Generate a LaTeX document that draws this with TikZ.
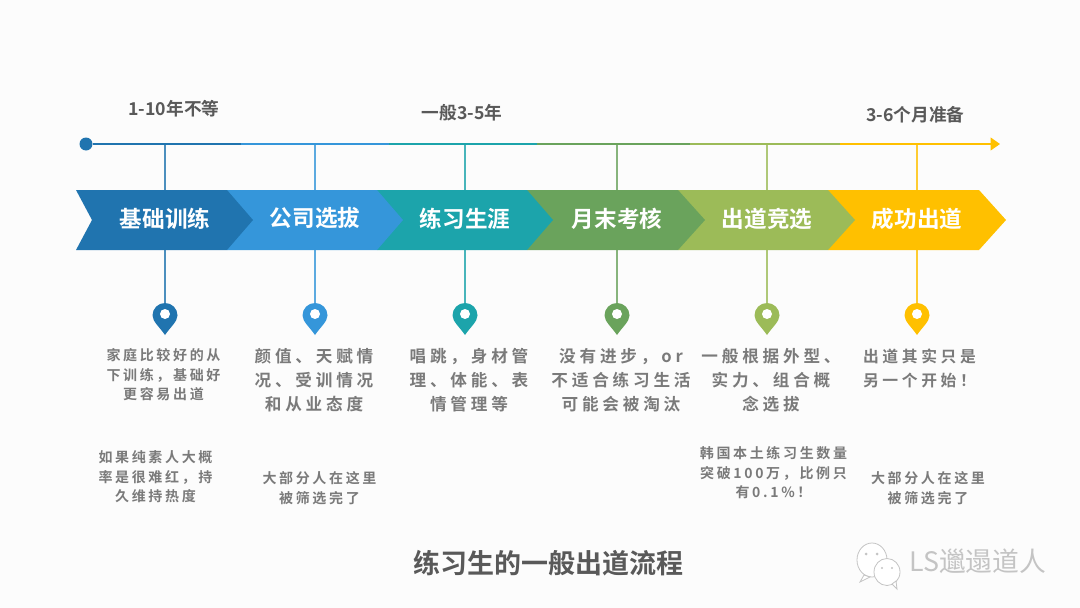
\documentclass[tikz,border=0pt]{standalone}
\usepackage{fontspec}
\usetikzlibrary{arrows.meta}
\setmainfont{Noto Sans CJK SC}
\newfontfamily\cjkbold[BoldFont={* Bold}]{Noto Sans CJK SC}
\newfontfamily\cjkwide[LetterSpace=23,BoldFont={* Bold}]{Noto Sans CJK SC}
\newfontfamily\cjksmall[LetterSpace=19,BoldFont={* Bold}]{Noto Sans CJK SC}
\definecolor{stepA}{HTML}{2074AF}
\definecolor{stepB}{HTML}{3596DA}
\definecolor{stepC}{HTML}{1CA4AB}
\definecolor{stepD}{HTML}{6AA35C}
\definecolor{stepE}{HTML}{9CBB58}
\definecolor{stepF}{HTML}{FFC000}
\definecolor{textgray}{HTML}{7A7A7A}
\definecolor{headgray}{HTML}{595959}
\definecolor{marklight}{HTML}{C4C4C4}
\tikzset{
  axisline/.style={line width=1.3pt},
  stemline/.style={line width=1.3pt, opacity=0.8},
  chevlabel/.style={text=white, font=\cjkbold\bfseries\fontsize{22.6}{26}\selectfont},
  toplabel/.style={text=headgray, font=\cjkbold\bfseries\fontsize{17.7}{20}\selectfont},
  bigtext/.style={text=textgray, align=center, font=\cjkwide\bfseries\fontsize{16.6}{24}\selectfont},
  smalltext/.style={text=textgray, align=center, font=\cjksmall\bfseries\fontsize{14}{19.4}\selectfont},
  locpin/.pic={
    \fill[pic actions] (0,19.5) .. controls (-5,12) and (-12.5,6) .. (-12.5,0)
      .. controls (-12.5,-7) and (-7,-12.5) .. (0,-12.5)
      .. controls (7,-12.5) and (12.5,-7) .. (12.5,0)
      .. controls (12.5,6) and (5,12) .. (0,19.5) -- cycle;
    \fill[white] (0,-1.5) circle (5pt);
  }
}
\begin{document}
\begin{tikzpicture}[x=1pt,y=-1pt]
  \fill[white!99!black] (0,0) rectangle (1080,608);
  \useasboundingbox (0,0) rectangle (1080,608);
  % time line
  \coordinate (seg1) at (241,144);
  \coordinate (seg2) at (389,144);
  \coordinate (seg3) at (537,144);
  \coordinate (seg4) at (690,144);
  \coordinate (seg5) at (840,144);
  \coordinate (axisend) at (1000,144);
  \node [circle, fill=stepA, inner sep=0pt, minimum size=13pt] (axisstart) at (86,144) {};
  \draw[axisline, stepA] (axisstart) -- (seg1);
  \draw[axisline, stepB] (seg1) -- (seg2);
  \draw[axisline, stepC] (seg2) -- (seg3);
  \draw[axisline, stepD] (seg3) -- (seg4);
  \draw[axisline, stepE] (seg4) -- (seg5);
  \draw[axisline, stepF, -{Triangle[length=9.5pt,width=13pt]}] (seg5) -- (axisend);
  % stems
  \coordinate (tick1) at (165,144);
  \coordinate (tick2) at (315,144);
  \coordinate (tick3) at (465,144);
  \coordinate (tick4) at (617,144);
  \coordinate (tick5) at (767,144);
  \coordinate (tick6) at (917,144);
  \coordinate (pin1) at (165,315.5);
  \coordinate (pin2) at (315,315.5);
  \coordinate (pin3) at (465,315.5);
  \coordinate (pin4) at (617,315.5);
  \coordinate (pin5) at (767,315.5);
  \coordinate (pin6) at (917,315.5);
  \draw[stemline, stepA] (tick1) -- (pin1);
  \draw[stemline, stepB] (tick2) -- (pin2);
  \draw[stemline, stepC] (tick3) -- (pin3);
  \draw[stemline, stepD] (tick4) -- (pin4);
  \draw[stemline, stepE] (tick5) -- (pin5);
  \draw[stemline, stepF] (tick6) -- (pin6);
  \pic [fill=stepA] at (pin1) {locpin};
  \pic [fill=stepB] at (pin2) {locpin};
  \pic [fill=stepC] at (pin3) {locpin};
  \pic [fill=stepD] at (pin4) {locpin};
  \pic [fill=stepE] at (pin5) {locpin};
  \pic [fill=stepF] at (pin6) {locpin};
  % chevrons, right one first
  \fill[stepF] (828,190) -- (979,190) -- (1006,220) -- (979,250) -- (828,250) -- cycle;
  \fill[stepE] (678,190) -- (828,190) -- (855,220) -- (828,250) -- (678,250) -- cycle;
  \fill[stepD] (527,190) -- (678,190) -- (705,220) -- (678,250) -- (527,250) -- cycle;
  \fill[stepC] (377,190) -- (527,190) -- (553,220) -- (527,250) -- (377,250) -- cycle;
  \fill[stepB] (227,190) -- (377,190) -- (403,220) -- (377,250) -- (227,250) -- cycle;
  \fill[stepA] (76,190) -- (227,190) -- (253,220) -- (227,250) -- (76,250) -- (92,220) -- cycle;
  \node [chevlabel] (chev1) at (165,218.5) {基础训练};
  \node [chevlabel] (chev2) at (315,218.5) {公司选拔};
  \node [chevlabel] (chev3) at (465,218.5) {练习生涯};
  \node [chevlabel] (chev4) at (617,218.5) {月末考核};
  \node [chevlabel] (chev5) at (767,218.5) {出道竞选};
  \node [chevlabel] (chev6) at (917,218.5) {成功出道};
  % top labels
  \node [toplabel] (top1) at (174,109) {1-10年不等};
  \node [toplabel] (top2) at (462,113) {一般3-5年};
  \node [toplabel] (top3) at (915.5,115) {3-6个月准备};
  % texts under the pins
  \node [smalltext] (note1) at (163.5,375) {家庭比较好的从\\下训练，基础好\\更容易出道};
  \node [bigtext] (note2) at (314,380) {颜值、天赋情\\况、受训情况\\和从业态度};
  \node [bigtext] (note3) at (469,380) {唱跳，身材管\\理、体能、表\\情管理等};
  \node [bigtext] (note4) at (621,380) {没有进步，or\\不适合练习生活\\可能会被淘汰};
  \node [bigtext] (note5) at (771,380) {一般根据外型、\\实力、组合概\\念选拔};
  \node [bigtext, font=\cjkwide\bfseries\fontsize{15.8}{24}\selectfont] (note6) at (919.5,368) {出道其实只是\\另一个开始！};
  \node [smalltext] (extra1) at (155.5,477) {如果纯素人大概\\率是很难红，持\\久维持热度};
  \node [smalltext] (extra2) at (319.5,488) {大部分人在这里\\被筛选完了};
  \node [smalltext] (extra5) at (773.5,473) {韩国本土练习生数量\\突破100万，比例只\\有0.1\%！};
  \node [smalltext] (extra6) at (928,488) {大部分人在这里\\被筛选完了};
  % title
  \node [text=headgray, font=\cjkbold\bfseries\fontsize{27}{32}\selectfont] (title) at (548,563) {练习生的一般出道流程};
  % watermark
  \filldraw[marklight, fill=white, line width=0.8pt] (872,560) ellipse (15pt and 17pt);
  \filldraw[marklight, fill=white, line width=0.8pt] (864,575) -- (860,582) -- (870,577) -- cycle;
  \filldraw[marklight, fill=white, line width=0.8pt] (887,572) ellipse (13pt and 13.5pt);
  \filldraw[marklight, fill=white, line width=0.8pt] (892,584) -- (897,589) -- (896,581) -- cycle;
  \fill[marklight] (866,554) circle (1.5pt) (877,554) circle (1.5pt) (882,568) circle (1.2pt) (892,568) circle (1.2pt);
  \node [text=marklight, font=\fontsize{26.8}{30}\selectfont, anchor=west, inner sep=0pt] (mark) at (909,561) {LS邋遢道人};
\end{tikzpicture}
\end{document}
